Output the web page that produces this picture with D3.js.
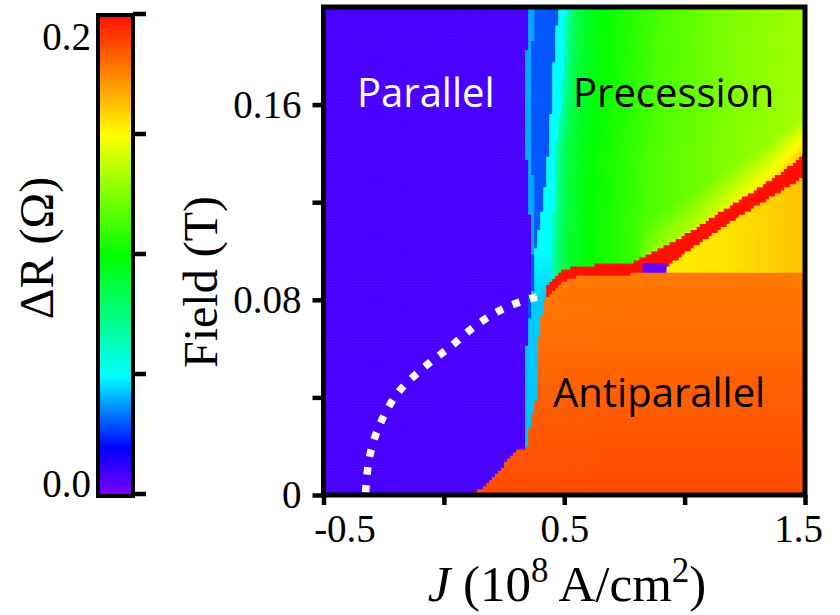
<!DOCTYPE html>
<html>
<head>
<meta charset="utf-8">
<script src="https://cdn.jsdelivr.net/npm/d3@7"></script>
<style>
  body { margin: 0; background: #fff; }
  svg { display: block; }
</style>
</head>
<body>
<div id="chart"></div>
<script>
// colour bar (ΔR in Ω)
const colorValues = [0, 0.02, 0.05, 0.1, 0.15, 0.2];
const colorStops = ["#8000ff", "#0000ff", "#00ffff", "#00ff00", "#ffff00", "#ff1000"];
const cbTicks = [0, 0.05, 0.1, 0.15, 0.2];
const cbLabels = ["0.0", "", "", "", "0.2"];

// axes
const xTicks = [-0.5, 0, 0.5, 1, 1.5];
const xTickLabels = ["-0.5", "", "0.5", "", "1.5"];
const yTicks = [0, 0.04, 0.08, 0.12, 0.16];
const yTickLabels = ["0", "", "0.08", "", "0.16"];

// map cell size (J in 1e8 A/cm2, field in T)
const jStep = 0.0125, hStep = 0.00125;

// boundaries, per field level (J where each zone ends)
const fieldLevels    = [0, 0.005, 0.0135, 0.018, 0.019, 0.027, 0.04, 0.055, 0.068, 0.079, 0.085, 0.09, 0.1, 0.12, 0.14, 0.16, 0.18, 0.2];
const parallelEdge   = [0.117, 0.1875, 0.258, 0.292, 0.333, 0.333, 0.342, 0.333, 0.354, 0.354, 0.358, 0.36, 0.3625, 0.354, 0.342, 0.3375, 0.342, 0.354];
const edgeLineEnd    = [0.117, 0.1875, 0.258, 0.292, 0.333, 0.333, 0.342, 0.333, 0.354, 0.354, 0.358, 0.36, 0.37, 0.375, 0.364, 0.36, 0.365, 0.377];
const blueCoreEnd    = [0.117, 0.1875, 0.258, 0.292, 0.333, 0.333, 0.342, 0.333, 0.354, 0.36, 0.372, 0.375, 0.38, 0.412, 0.433, 0.446, 0.458, 0.475];
const cyanEnd        = [0.117, 0.1875, 0.258, 0.292, 0.342, 0.354, 0.383, 0.3875, 0.396, 0.417, 0.45, 0.45, 0.45, 0.458, 0.4625, 0.4875, 0.5, 0.508];
const apLevels       = [0, 0.005, 0.0135, 0.018, 0.019, 0.027, 0.04, 0.055, 0.068, 0.079, 0.085, 0.09];
const apEdge         = [0.117, 0.1875, 0.258, 0.292, 0.342, 0.354, 0.383, 0.3875, 0.396, 0.417, 0.433, 0.46];

// red switching line, per J
const redJ    = [0.429, 0.45, 0.479, 0.521, 0.583, 0.646, 0.771, 0.825, 0.875, 0.9375, 1.0625, 1.2, 1.342, 1.479, 1.5];
const redTopH = [0.0854, 0.0888, 0.0914, 0.093, 0.0941, 0.0945, 0.0949, 0.0975, 0.0998, 0.1028, 0.1105, 0.1192, 0.1280, 0.1382, 0.1402];
const redBotH = [0.0808, 0.0832, 0.0860, 0.0888, 0.0902, 0.0904, 0.0906, 0.0910, 0.0928, 0.0945, 0.1035, 0.1127, 0.1212, 0.1295, 0.1308];
const apTopField = 0.0912;

// small purple spot on the red line
const blipJ = [0.83, 0.93];
const blipH = [0.0914, 0.095];

// zone levels (ΔR)
const parallelValue = 0.0085, edgeLineValue = 0.04, blueCoreValue = 0.03, redValue = 0.2, blipValue = 0.004;
const cyanH = [0, 0.08, 0.1];
const cyanV = [0.042, 0.044, 0.05];
const apH = [0, 0.02, 0.045, 0.07, 0.095];
const apV = [0.188, 0.186, 0.183, 0.18, 0.178];
const yellowJ = [0.83, 1.2, 1.5];
const yellowV = [0.153, 0.156, 0.163];
const precDist = [0, 0.05, 0.15, 0.4, 0.7, 1.05];
const precV = [0.065, 0.088, 0.1, 0.115, 0.125, 0.133];
const boostJ = [0.8, 0.85, 1.2, 1.5];
const boostV = [0, 0.012, 0.02, 0.03];
const boostRange = 0.016;

// white dotted guide
const curveJ = [-0.325, -0.31, -0.27, -0.19, -0.08, 0.03, 0.14, 0.26, 0.40];
const curveH = [0.001, 0.015, 0.028, 0.042, 0.0525, 0.061, 0.070, 0.077, 0.0816];

const width = 840, height = 615;
const svg = d3.select("#chart").append("svg")
  .attr("width", width).attr("height", height);

const x = d3.scaleLinear().domain([-0.5, 1.5]).range([323.5, 805]);
const y = d3.scaleLinear().domain([0, 0.2]).range([495, 7]);
const color = d3.scaleLinear().domain(colorValues).range(colorStops).clamp(true);

const lin = (dom, ran) => d3.scaleLinear().domain(dom).range(ran).clamp(true);
const pEdge = lin(fieldLevels, parallelEdge);
const eEnd = lin(fieldLevels, edgeLineEnd);
const bEnd = lin(fieldLevels, blueCoreEnd);
const cEnd = lin(fieldLevels, cyanEnd);
const aEdge = lin(apLevels, apEdge);
const rTop = lin(redJ, redTopH);
const rBot = lin(redJ, redBotH);
const cyanVal = lin(cyanH, cyanV);
const apVal = lin(apH, apV);
const yelVal = lin(yellowJ, yellowV);
const precVal = lin(precDist, precV);
const boostVal = lin(boostJ, boostV);

function apTopAt(J) {
  if (J < redJ[0]) return 0.082;
  if (J < 0.83) return rBot(J);
  return Math.min(rBot(J), apTopField);
}

function valueAt(J, H) {
  if (J >= blipJ[0] && J <= blipJ[1] && H >= blipH[0] && H <= blipH[1]) return blipValue;
  if (J >= redJ[0] && H >= rBot(J) && H <= rTop(J)) return redValue;
  if (J >= aEdge(H) && H < apTopAt(J)) return apVal(H);
  if (J >= 0.83 && H < rBot(J)) return yelVal(J);
  if (J < pEdge(H)) return parallelValue;
  if (J < eEnd(H)) return edgeLineValue;
  if (J < bEnd(H)) return blueCoreValue;
  if (J < cEnd(H)) return cyanVal(H);
  let v = precVal(J - cEnd(H));
  if (J >= redJ[0]) {
    const d = H - rTop(J);
    if (d >= 0 && d < boostRange) v += boostVal(J) * (1 - d / boostRange);
  }
  return v;
}

const nCols = Math.round(2 / jStep), nRows = Math.round(0.2 / hStep);
const cells = [];
for (let i = 0; i < nRows; i++) {
  for (let j = 0; j < nCols; j++) {
    const j0 = -0.5 + j * jStep, h0 = i * hStep;
    cells.push({ j0: j0, h0: h0, v: valueAt(j0 + jStep / 2, h0 + hStep / 2) });
  }
}

const cw = x(jStep) - x(0) + 0.6, ch = y(0) - y(hStep) + 0.6;
svg.append("g").selectAll("rect").data(cells).join("rect")
  .attr("x", d => x(d.j0))
  .attr("y", d => y(d.h0 + hStep) - 0.3)
  .attr("width", cw)
  .attr("height", ch)
  .attr("fill", d => color(d.v));

// dotted guide curve
const line = d3.line().x(d => x(d[0])).y(d => y(d[1])).curve(d3.curveCatmullRom);
svg.append("path")
  .datum(curveJ.map((j, i) => [j, curveH[i]]))
  .attr("d", line)
  .attr("fill", "none")
  .attr("stroke", "#fff")
  .attr("stroke-width", 7.5)
  .attr("stroke-dasharray", "7.5,10.5");

// region labels
const labelFont = "'Open Sans', 'Noto Sans', sans-serif";
svg.append("text").attr("x", 357).attr("y", 107).text("Parallel")
  .attr("font-family", labelFont).attr("font-size", 40).attr("fill", "#fff");
svg.append("text").attr("x", 573).attr("y", 107).text("Precession")
  .attr("font-family", labelFont).attr("font-size", 40).attr("fill", "#000");
svg.append("text").attr("x", 553).attr("y", 407).text("Antiparallel")
  .attr("font-family", labelFont).attr("font-size", 40).attr("fill", "#000");

// frame
svg.append("rect")
  .attr("x", x(-0.5)).attr("y", y(0.2))
  .attr("width", x(1.5) - x(-0.5)).attr("height", y(0) - y(0.2))
  .attr("fill", "none").attr("stroke", "#000").attr("stroke-width", 5);

const serif = "'Liberation Serif', 'Times New Roman', serif";

// axes
const xAxis = svg.append("g")
  .attr("transform", `translate(0,${y(0)})`)
  .call(d3.axisBottom(x).tickValues(xTicks).tickSize(10).tickPadding(9)
    .tickFormat((d, i) => xTickLabels[i]));
xAxis.select(".domain").remove();
xAxis.selectAll("line").attr("stroke-width", 4.5);
xAxis.selectAll("text")
  .attr("font-family", serif).attr("font-size", 39).attr("fill", "#000")
  .attr("dx", d => d === -0.5 ? 21 : d === 1.5 ? -7 : 0);

const yAxis = svg.append("g")
  .attr("transform", `translate(${x(-0.5)},0)`)
  .call(d3.axisLeft(y).tickValues(yTicks).tickSize(11).tickPadding(11)
    .tickFormat((d, i) => yTickLabels[i]));
yAxis.select(".domain").remove();
yAxis.selectAll("line").attr("stroke-width", 4.5);
yAxis.selectAll("text")
  .attr("font-family", serif).attr("font-size", 39).attr("fill", "#000");

// axis titles
const xt = svg.append("text")
  .attr("x", 567).attr("y", 601)
  .attr("text-anchor", "middle")
  .attr("font-family", serif).attr("font-size", 51);
xt.append("tspan").attr("font-style", "italic").text("J");
xt.append("tspan").text(" (10");
xt.append("tspan").attr("font-size", 35).attr("dy", -19).text("8");
xt.append("tspan").attr("dy", 19).text(" A/cm");
xt.append("tspan").attr("font-size", 35).attr("dy", -19).text("2");
xt.append("tspan").attr("dy", 19).text(")");

svg.append("text")
  .attr("transform", "translate(217,282) rotate(-90)")
  .attr("text-anchor", "middle")
  .attr("font-family", serif).attr("font-size", 48)
  .text("Field (T)");

// colour bar
const cb = d3.scaleLinear().domain([0, 0.2]).range([494, 14]);
const grad = svg.append("defs").append("linearGradient")
  .attr("id", "cbGrad")
  .attr("x1", 0).attr("y1", 1).attr("x2", 0).attr("y2", 0);
grad.selectAll("stop").data(colorValues).join("stop")
  .attr("offset", d => d / 0.2)
  .attr("stop-color", (d, i) => colorStops[i]);

svg.append("rect")
  .attr("x", 98).attr("y", 15).attr("width", 35).attr("height", 481)
  .attr("fill", "url(#cbGrad)")
  .attr("stroke", "#000").attr("stroke-width", 4);

svg.append("g").selectAll("line").data(cbTicks).join("line")
  .attr("x1", 133).attr("x2", 146)
  .attr("y1", d => cb(d)).attr("y2", d => cb(d))
  .attr("stroke", "#000").attr("stroke-width", 4.5);

svg.append("g").selectAll("text").data(cbTicks).join("text")
  .attr("x", 91)
  .attr("y", d => cb(d) + (d > 0.1 ? 36 : 3))
  .attr("text-anchor", "end")
  .attr("font-family", serif).attr("font-size", 39)
  .text((d, i) => cbLabels[i]);

svg.append("text")
  .attr("transform", "translate(53,248) rotate(-90)")
  .attr("text-anchor", "middle")
  .attr("font-family", serif).attr("font-size", 48)
  .text("ΔR (Ω)");
</script>
</body>
</html>
